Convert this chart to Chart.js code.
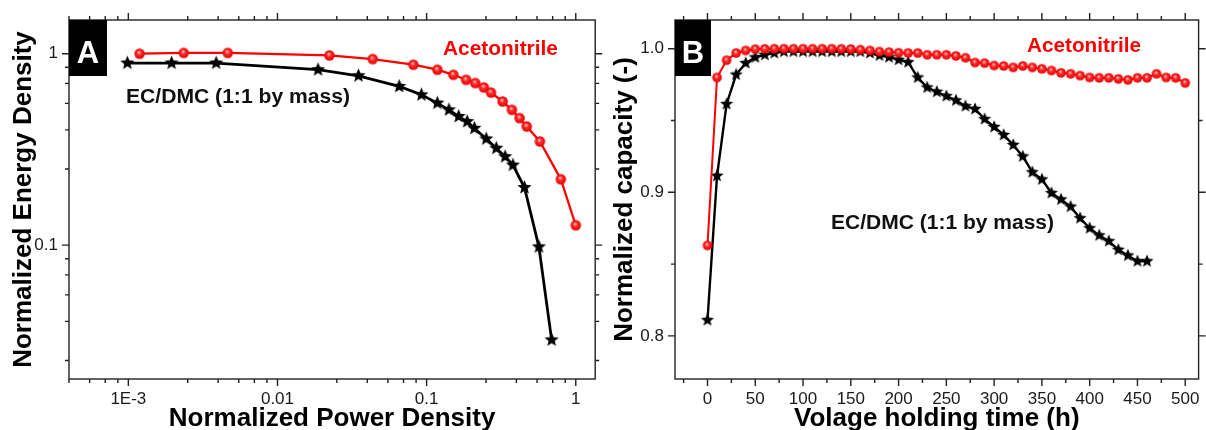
<!DOCTYPE html>
<html>
<head>
<meta charset="utf-8">
<script src="https://cdn.jsdelivr.net/npm/chart.js@4.4.1/dist/chart.umd.min.js"></script>
<style>
  html, body { margin: 0; padding: 0; background: #fff; }
  #wrap { position: relative; width: 1206px; height: 430px; overflow: hidden; }
  .pane { position: absolute; top: 0; width: 603px; height: 430px; }
  #paneA { left: 0; }
  #paneB { left: 603px; }
</style>
</head>
<body>
<div id="wrap">
  <div class="pane" id="paneA"><canvas id="chartA" width="603" height="430"></canvas></div>
  <div class="pane" id="paneB"><canvas id="chartB" width="603" height="430"></canvas></div>
</div>
<script>
// ---- panel A : normalized energy vs power (log-log)
const powerAcn  = [0.00119, 0.00235, 0.00464, 0.0223, 0.0435, 0.0815, 0.118, 0.151, 0.184, 0.212, 0.242, 0.27, 0.323, 0.373, 0.42, 0.469, 0.575, 0.794, 1.0];
const energyAcn = [1.0, 1.01, 1.01, 0.98, 0.938, 0.876, 0.825, 0.776, 0.731, 0.703, 0.667, 0.627, 0.563, 0.509, 0.461, 0.417, 0.348, 0.221, 0.127];
const powerEc   = [0.000985, 0.00195, 0.00388, 0.0187, 0.0349, 0.0655, 0.0923, 0.118, 0.141, 0.164, 0.187, 0.209, 0.251, 0.293, 0.336, 0.379, 0.453, 0.566, 0.689];
const energyEc  = [0.894, 0.894, 0.894, 0.825, 0.767, 0.675, 0.61, 0.552, 0.509, 0.47, 0.442, 0.408, 0.359, 0.321, 0.29, 0.262, 0.2, 0.098, 0.032];

const ticksAx  = [0.001, 0.01, 0.1, 1];
const labelsAx = ['1E-3', '0.01', '0.1', '1'];
const minorAx  = [4e-4, 5.5e-4, 7e-4, 8.5e-4, 2.5e-3, 4e-3, 5.5e-3, 7e-3, 8.5e-3, 0.025, 0.04, 0.055, 0.07, 0.085, 0.25, 0.4, 0.55, 0.7, 0.85];
const ticksAy  = [0.1, 1];
const labelsAy = ['0.1', '1'];
const minorAy  = [0.025, 0.04, 0.055, 0.07, 0.085, 0.25, 0.4, 0.55, 0.7, 0.85];

// ---- panel B : normalized capacity vs holding time
const timeAcn = [0, 10, 20, 30, 40, 50, 60, 70, 80, 90, 100, 110, 120, 130, 140, 150, 160, 170, 180, 190, 200,
                 210, 220, 230, 240, 250, 260, 270, 280, 290, 300, 310, 320, 330, 340, 350, 360, 370, 380, 390, 400,
                 410, 420, 430, 440, 450, 460, 470, 480, 490, 500];
const capAcn  = [0.863, 0.980, 0.992, 0.997, 0.9988, 0.9997, 0.9999, 1.0, 1.0, 1.0, 1.0, 1.0, 1.0, 1.0, 0.9999, 0.9998,
                 0.9993, 0.9988, 0.998, 0.9976, 0.9972, 0.997, 0.997, 0.9958, 0.9958, 0.9958, 0.995, 0.9937, 0.9904, 0.990,
                 0.9883, 0.988, 0.987, 0.988, 0.987, 0.986, 0.9848, 0.9832, 0.9825, 0.9813, 0.980, 0.9797, 0.9797, 0.979,
                 0.9783, 0.9797, 0.9797, 0.9825, 0.980, 0.9797, 0.9762];
const timeEc  = [0, 10, 20, 30, 40, 50, 60, 70, 80, 90, 100, 110, 120, 130, 140, 150, 160, 170, 180, 190, 200,
                 210, 220, 230, 240, 250, 260, 270, 280, 290, 300, 310, 320, 330, 340, 350, 360, 370, 380, 390, 400,
                 410, 420, 430, 440, 450, 460];
const capEc   = [0.811, 0.9115, 0.9615, 0.982, 0.990, 0.994, 0.9958, 0.997, 0.998, 0.998, 0.998, 0.998, 0.998, 0.998,
                 0.998, 0.998, 0.998, 0.997, 0.9953, 0.9941, 0.9923, 0.9906, 0.980, 0.973, 0.970, 0.967, 0.964, 0.960,
                 0.958, 0.951, 0.9455, 0.940, 0.933, 0.925, 0.914, 0.909, 0.8995, 0.895, 0.890, 0.882, 0.875, 0.870,
                 0.866, 0.860, 0.856, 0.852, 0.852];

const ticksBx  = [0, 50, 100, 150, 200, 250, 300, 350, 400, 450, 500];
const labelsBx = ['0', '50', '100', '150', '200', '250', '300', '350', '400', '450', '500'];
const minorBx  = [-25, 25, 75, 125, 175, 225, 275, 325, 375, 425, 475];
const ticksBy  = [0.8, 0.9, 1.0];
const labelsBy = ['0.8', '0.9', '1.0'];
const minorBy  = [0.85, 0.95];

const FONT = "'Liberation Sans', Arial, Helvetica, sans-serif";

// marker images: shaded red ball and filled black star
function ball(r) {
  const c = document.createElement('canvas');
  const s = Math.ceil(r * 2 + 2);
  c.width = c.height = s;
  const g = c.getContext('2d');
  const m = s / 2;
  const grad = g.createRadialGradient(m - r * 0.15, m - r * 0.3, r * 0.05, m, m, r);
  grad.addColorStop(0, '#ffc4c4');
  grad.addColorStop(0.4, '#ff2a2a');
  grad.addColorStop(1, '#e80000');
  g.fillStyle = grad;
  g.beginPath();
  g.arc(m, m, r, 0, Math.PI * 2);
  g.fill();
  return c;
}
function star(r) {
  const c = document.createElement('canvas');
  const s = Math.ceil(r * 2 + 2);
  c.width = c.height = s;
  const g = c.getContext('2d');
  const m = s / 2;
  g.fillStyle = '#000';
  g.beginPath();
  for (let i = 0; i < 10; i++) {
    const rr = i % 2 === 0 ? r : r * 0.44;
    const ang = -Math.PI / 2 + i * Math.PI / 5;
    const px = m + rr * Math.cos(ang), py = m + rr * Math.sin(ang);
    if (i === 0) g.moveTo(px, py); else g.lineTo(px, py);
  }
  g.closePath();
  g.fill();
  return c;
}

function pts(xs, ys) { return xs.map((v, i) => ({ x: v, y: ys[i] })); }

// frame, ticks on all four sides, panel letter and in-plot labels
function decor(cfg) {
  return {
    id: 'decor' + cfg.tag,
    afterDatasetsDraw(chart) {
      const { ctx, chartArea: a, scales: { x, y } } = chart;
      ctx.save();
      ctx.strokeStyle = '#222';
      ctx.lineWidth = 1.4;
      ctx.strokeRect(a.left, a.top, a.right - a.left, a.bottom - a.top);
      const hor = (vals, len) => vals.forEach(v => {
        const px = x.getPixelForValue(v);
        ctx.beginPath();
        ctx.moveTo(px, a.bottom); ctx.lineTo(px, a.bottom + len);
        ctx.moveTo(px, a.top); ctx.lineTo(px, a.top - len);
        ctx.stroke();
      });
      const ver = (vals, len) => vals.forEach(v => {
        const py = y.getPixelForValue(v);
        ctx.beginPath();
        ctx.moveTo(a.left, py); ctx.lineTo(a.left - len, py);
        ctx.moveTo(a.right, py); ctx.lineTo(a.right + len, py);
        ctx.stroke();
      });
      hor(cfg.majorX, 7); hor(cfg.minorX, 4);
      ver(cfg.majorY, 7); ver(cfg.minorY, 4);

      // panel letter
      ctx.fillStyle = '#000';
      ctx.fillRect(a.left, a.top, cfg.boxW, 56);
      ctx.fillStyle = '#fff';
      ctx.font = 'bold 31px ' + FONT;
      ctx.textAlign = 'center';
      ctx.textBaseline = 'alphabetic';
      ctx.fillText(cfg.tag, a.left + cfg.boxW / 2, a.top + 43);

      // notes, stretched to the width measured on the figure
      ctx.textAlign = 'left';
      cfg.notes.forEach(n => {
        ctx.save();
        ctx.font = 'bold ' + n.size + 'px ' + FONT;
        ctx.fillStyle = n.color;
        const w = ctx.measureText(n.text).width;
        ctx.translate(a.left + n.dx, a.top + n.dy);
        ctx.scale(n.w / w, 1);
        ctx.fillText(n.text, 0, 0);
        ctx.restore();
      });
      ctx.restore();
    }
  };
}

function axis(opt) {
  return {
    type: opt.type,
    position: opt.position,
    min: opt.min,
    max: opt.max,
    bounds: 'data',
    afterBuildTicks: s => { s.ticks = opt.ticks.map(v => ({ value: v })); },
    afterFit: s => {
      if (opt.position === 'bottom') s.height = 51; else s.width = opt.width;
      s.paddingLeft = 0; s.paddingRight = 0; s.paddingTop = 0; s.paddingBottom = 0;
    },
    ticks: {
      autoSkip: false, maxRotation: 0, minRotation: 0,
      padding: opt.position === 'bottom' ? 3 : 4,
      color: '#1a1a1a',
      font: { family: FONT, size: 17 },
      callback: (v, i) => opt.labels[i]
    },
    grid: { display: true, drawOnChartArea: false, drawTicks: true, tickLength: 7, color: 'rgba(0,0,0,0)' },
    border: { display: false },
    title: {
      display: true, text: opt.title, color: '#000',
      font: { family: FONT, size: 26, weight: 'bold', lineHeight: opt.position === 'bottom' ? 0.88 : 1 },
      padding: opt.position === 'bottom' ? { top: 0, bottom: 0 } : { top: opt.titlePad, bottom: 0 }
    }
  };
}

const common = {
  responsive: false,
  animation: false,
  events: [],
  plugins: { legend: { display: false }, tooltip: { enabled: false } }
};

new Chart(document.getElementById('chartA'), {
  type: 'line',
  data: {
    datasets: [
      { label: 'Acetonitrile', data: pts(powerAcn, energyAcn), borderColor: '#ff0000', borderWidth: 2.3,
        pointStyle: ball(5.2), pointRadius: 5, tension: 0 },
      { label: 'EC/DMC (1:1 by mass)', data: pts(powerEc, energyEc), borderColor: '#000', borderWidth: 2.8,
        pointStyle: star(7.4), pointRadius: 5, tension: 0 }
    ]
  },
  options: Object.assign({}, common, {
    layout: { padding: { left: 0, right: 5, top: 20, bottom: 0 } },
    scales: {
      x: axis({ type: 'logarithmic', position: 'bottom', min: 4e-4, max: 1.35, ticks: ticksAx, labels: labelsAx,
                title: 'Normalized Power Density' }),
      y: axis({ type: 'logarithmic', position: 'left', min: 0.02, max: 1.5, ticks: ticksAy, labels: labelsAy,
                title: 'Normalized Energy Density', width: 69, titlePad: 11 })
    }
  }),
  plugins: [decor({
    tag: 'A', boxW: 38, majorX: ticksAx, minorX: minorAx, majorY: ticksAy, minorY: minorAy,
    notes: [
      { text: 'Acetonitrile', color: '#ff0000', size: 21, dx: 374, dy: 35, w: 115 },
      { text: 'EC/DMC (1:1 by mass)', color: '#111', size: 20, dx: 57, dy: 83, w: 224 }
    ]
  })]
});

new Chart(document.getElementById('chartB'), {
  type: 'line',
  data: {
    datasets: [
      { label: 'Acetonitrile', data: pts(timeAcn, capAcn), borderColor: '#ff0000', borderWidth: 2,
        pointStyle: ball(4.8), pointRadius: 5, tension: 0 },
      { label: 'EC/DMC (1:1 by mass)', data: pts(timeEc, capEc), borderColor: '#000', borderWidth: 2.4,
        pointStyle: star(6.8), pointRadius: 5, tension: 0 }
    ]
  },
  options: Object.assign({}, common, {
    layout: { padding: { left: 0, right: 2, top: 20, bottom: 0 } },
    scales: {
      x: axis({ type: 'linear', position: 'bottom', min: -34, max: 514, ticks: ticksBx, labels: labelsBx,
                title: 'Volage holding time (h)' }),
      y: axis({ type: 'linear', position: 'left', min: 0.77, max: 1.02, ticks: ticksBy, labels: labelsBy,
                title: 'Normalized capacity (-)', width: 72, titlePad: 9 })
    }
  }),
  plugins: [decor({
    tag: 'B', boxW: 36, majorX: ticksBx, minorX: minorBx, majorY: ticksBy, minorY: minorBy,
    notes: [
      { text: 'Acetonitrile', color: '#ff0000', size: 21, dx: 352, dy: 32, w: 114 },
      { text: 'EC/DMC (1:1 by mass)', color: '#111', size: 20, dx: 156, dy: 209, w: 223 }
    ]
  })]
});
</script>
</body>
</html>
